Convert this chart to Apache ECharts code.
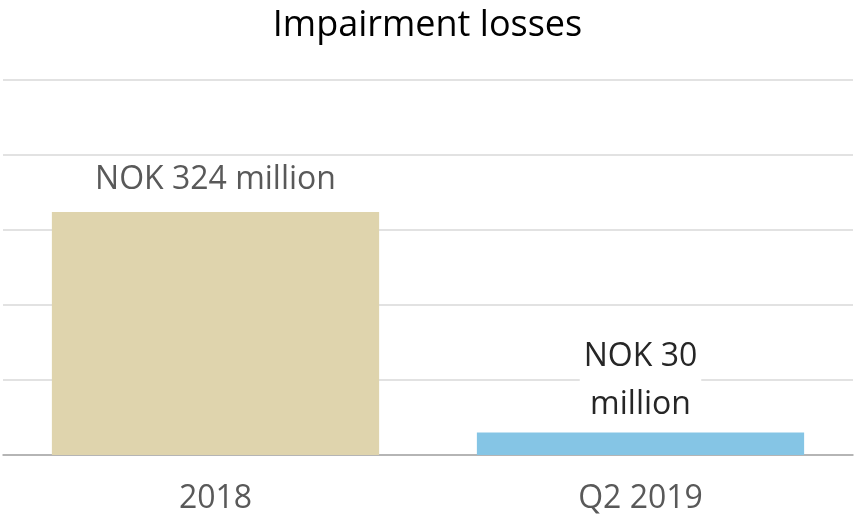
<!DOCTYPE html>
<html>
<head>
<meta charset="utf-8">
<script src="https://cdn.jsdelivr.net/npm/echarts@6/dist/echarts.min.js"></script>
<style>
  html, body { margin: 0; padding: 0; background: #fff; }
  #main { width: 855px; height: 522px; }
</style>
</head>
<body>
<div id="main"></div>
<script>
var categories = ['2018', 'Q2 2019'];
var values = [324, 30];
var barLabels = ['NOK 324 million', 'NOK 30\nmillion'];
var barColors = ['#dfd4ad', '#85c5e5'];

var chart = echarts.init(document.getElementById('main'));
var font = '"Open Sans", "Liberation Sans", sans-serif';

var option = {
    animation: false,
    title: {
        text: 'Impairment losses',
        left: 'center',
        top: 3,
        textStyle: { fontFamily: font, fontSize: 36, fontWeight: 'normal', color: '#000' }
    },
    grid: { left: 3, right: 2, top: 80, bottom: 67 },
    xAxis: {
        type: 'category',
        data: categories,
        axisLine: { lineStyle: { color: '#a6a6a6', width: 1.5 } },
        axisTick: { show: false },
        axisLabel: { fontFamily: font, fontSize: 32, color: '#595959', margin: 28 }
    },
    yAxis: {
        type: 'value',
        min: 0,
        max: 500,
        interval: 100,
        axisLabel: { show: false },
        axisLine: { show: false },
        axisTick: { show: false },
        splitLine: { lineStyle: { color: '#d9d9d9', width: 1.5 } }
    },
    series: [{
        type: 'bar',
        barWidth: '77%',
        data: values.map(function (v, i) {
            var lbl = {
                show: true,
                position: 'top',
                formatter: barLabels[i],
                fontFamily: font,
                fontSize: 32,
                color: i === 0 ? '#595959' : '#262626',
                distance: 16
            };
            if (i === 1) {
                lbl.backgroundColor = '#fff';
                lbl.lineHeight = 48;
                lbl.padding = [0, 4];
                lbl.distance = 4;
            }
            return { value: v, itemStyle: { color: barColors[i] }, label: lbl };
        })
    }]
};
chart.setOption(option);
</script>
</body>
</html>
